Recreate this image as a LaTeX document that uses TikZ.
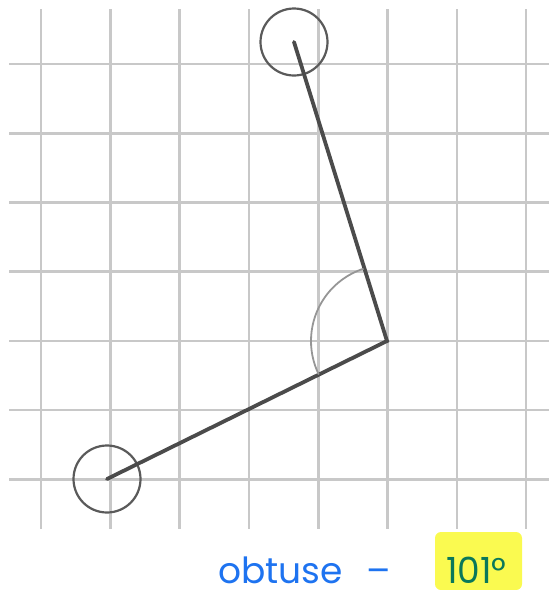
\documentclass[tikz,border=0pt]{standalone}
\usepackage{fontspec}
\setmainfont{Poppins}
\usetikzlibrary{positioning}

\definecolor{gridgray}{RGB}{200,200,200}
\definecolor{armgray}{RGB}{75,75,75}
\definecolor{ringgray}{RGB}{90,90,90}
\definecolor{arcgray}{RGB}{150,150,150}
\definecolor{penblue}{RGB}{30,115,240}
\definecolor{pengreen}{RGB}{10,120,90}
\definecolor{marker}{RGB}{250,250,80}

\begin{document}
\begin{tikzpicture}[x=1pt, y=-1pt,
    gridline/.style={draw=gridgray, line width=2.6pt},
    arm/.style={draw=armgray, line width=3.8pt, line cap=round},
    ring/.style={shape=circle, draw=ringgray, line width=2.2pt, inner sep=0, minimum size=67pt},
    angarc/.style={draw=arcgray, line width=1.8pt},
    hand/.style={inner sep=0, text depth=0pt, anchor=base west, font=\fontsize{36}{36}\selectfont}]
        \useasboundingbox (0, 0) rectangle (549, 590);

        % Grid:
        \foreach \i in {0,...,7}
            \draw[gridline] (41+69.3*\i, 9) -- (41+69.3*\i, 529);
        \foreach \j in {0,...,6}
            \draw[gridline] (9, 64+69.2*\j) -- (549, 64+69.2*\j);

        % Points, arms and angle:
        \coordinate (vertex) at (387, 341);
        \node[ring] (tip) at (294, 42) {};
        \node[ring] (base) at (107, 479) {};
        \draw[arm] (tip.center) -- (vertex) -- (base.center);
        \draw[angarc] (vertex) ++(153.8:76) arc[start angle=153.8, end angle=252, radius=76];

        % Label:
        \fill[marker, rounded corners=6pt] (435, 532) rectangle (522, 590);
        \node[hand, text=penblue] (kind) at (218, 583) {obtuse\hspace{24pt}–};
        \node[hand, text=pengreen] (value) at (446, 583) {101°};
    \end{tikzpicture}
\end{document}
